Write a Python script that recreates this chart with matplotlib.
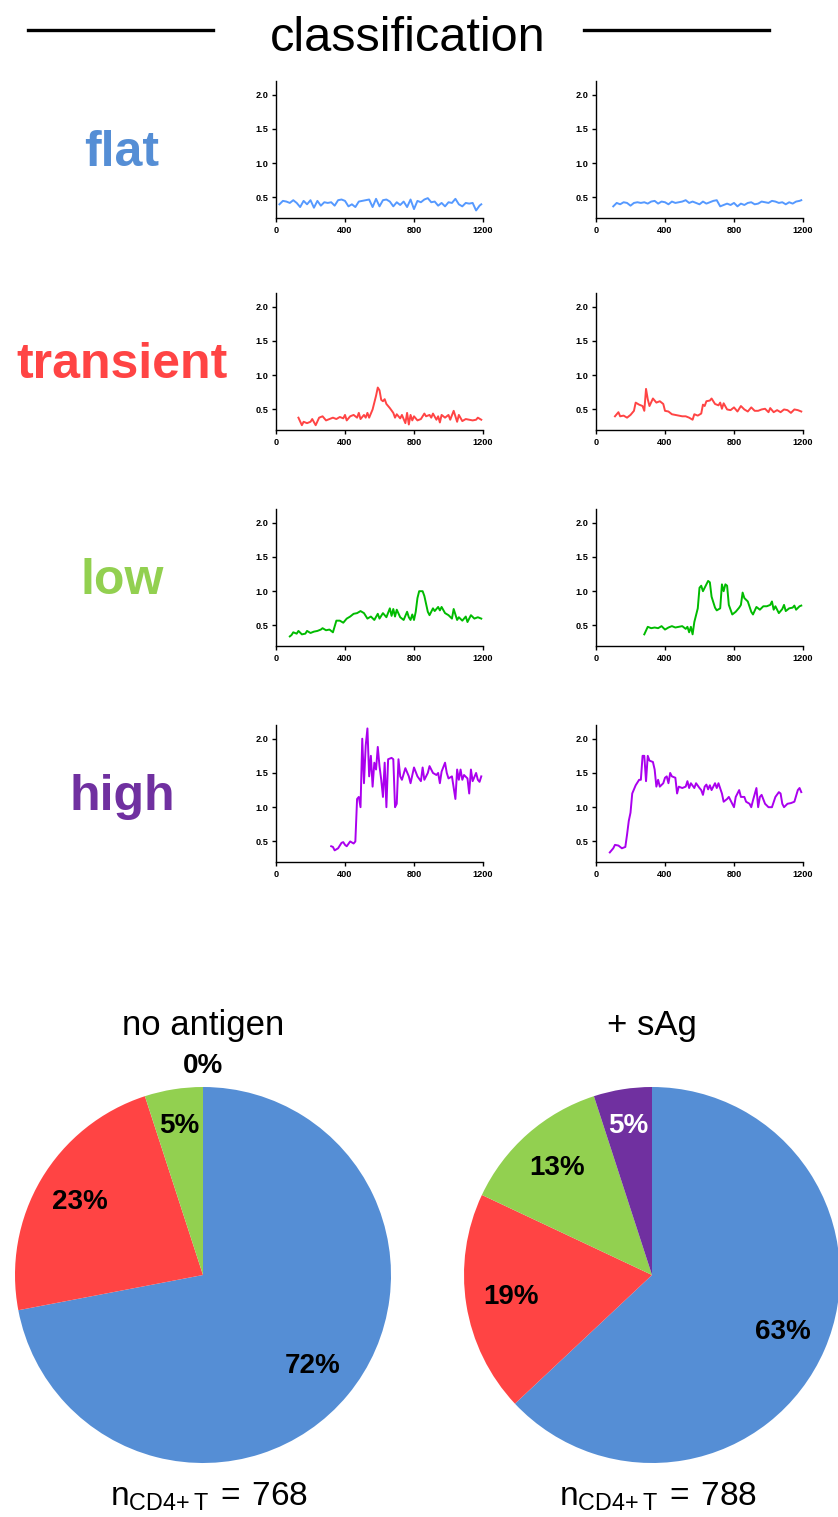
import matplotlib
matplotlib.use("Agg")
import matplotlib.pyplot as plt
import numpy as np

# ---- trace data (time in s, value) ----
flat_l_x = [20, 40, 60, 80, 100, 120, 140, 160, 180, 200, 220, 240, 260, 280, 300, 320, 340, 360, 380, 400,
            420, 440, 460, 480, 500, 520, 540, 560, 580, 600, 620, 640, 660, 680, 700, 720, 740, 760, 780, 800,
            820, 840, 860, 880, 900, 920, 940, 960, 980, 1000, 1020, 1040, 1060, 1080, 1100, 1120, 1140, 1160, 1180, 1190]
flat_l_y = [0.40, 0.45, 0.44, 0.42, 0.46, 0.42, 0.36, 0.45, 0.40, 0.46, 0.35, 0.45, 0.38, 0.43, 0.42, 0.43, 0.38, 0.46, 0.47, 0.45,
            0.37, 0.40, 0.36, 0.44, 0.45, 0.46, 0.47, 0.36, 0.48, 0.37, 0.46, 0.47, 0.44, 0.37, 0.43, 0.39, 0.44, 0.36, 0.47, 0.33,
            0.45, 0.43, 0.47, 0.49, 0.43, 0.44, 0.38, 0.42, 0.37, 0.43, 0.42, 0.48, 0.40, 0.37, 0.42, 0.41, 0.42, 0.31, 0.38, 0.40]

flat_r_x = [100, 120, 140, 160, 180, 200, 220, 240, 260, 280, 300, 320, 340, 360, 380, 400, 420, 440, 460, 480,
            500, 520, 540, 560, 580, 600, 620, 640, 660, 680, 700, 720, 740, 760, 780, 800, 820, 840, 860, 880,
            900, 920, 940, 960, 980, 1000, 1020, 1040, 1060, 1080, 1100, 1120, 1140, 1160, 1180, 1190]
flat_r_y = [0.37, 0.42, 0.40, 0.43, 0.42, 0.38, 0.42, 0.43, 0.42, 0.43, 0.41, 0.44, 0.45, 0.41, 0.44, 0.43, 0.40, 0.44, 0.42, 0.43,
            0.44, 0.46, 0.42, 0.44, 0.42, 0.40, 0.44, 0.41, 0.43, 0.45, 0.46, 0.37, 0.39, 0.41, 0.39, 0.42, 0.37, 0.41, 0.39, 0.42,
            0.43, 0.40, 0.41, 0.44, 0.43, 0.42, 0.45, 0.44, 0.42, 0.43, 0.40, 0.43, 0.41, 0.44, 0.45, 0.46]

trans_l_x = [130, 150, 160, 180, 200, 210, 230, 250, 270, 290, 310, 330, 350, 370, 390, 400, 410, 430, 450, 470,
             480, 490, 510, 520, 530, 540, 560, 580, 590, 600, 610, 620, 630, 640, 660, 680, 690, 700, 720, 730,
             750, 760, 770, 780, 790, 800, 820, 840, 860, 870, 890, 900, 910, 930, 940, 950, 960, 980, 1000, 1010,
             1030, 1040, 1050, 1060, 1080, 1100, 1120, 1140, 1160, 1170, 1190]
trans_l_y = [0.38, 0.27, 0.32, 0.30, 0.32, 0.36, 0.27, 0.38, 0.40, 0.34, 0.36, 0.38, 0.36, 0.39, 0.37, 0.42, 0.34, 0.40, 0.42, 0.38,
             0.45, 0.36, 0.42, 0.38, 0.45, 0.38, 0.50, 0.70, 0.82, 0.78, 0.64, 0.62, 0.65, 0.58, 0.52, 0.45, 0.38, 0.43, 0.37, 0.42,
             0.30, 0.45, 0.28, 0.42, 0.34, 0.40, 0.34, 0.36, 0.44, 0.40, 0.42, 0.38, 0.44, 0.35, 0.40, 0.31, 0.42, 0.38, 0.42, 0.35,
             0.48, 0.40, 0.32, 0.42, 0.33, 0.36, 0.35, 0.34, 0.35, 0.38, 0.35]

trans_r_x = [110, 130, 140, 160, 180, 200, 220, 230, 250, 270, 280, 290, 300, 310, 330, 350, 370, 390, 400, 420,
             440, 460, 480, 500, 520, 540, 560, 570, 590, 610, 620, 630, 640, 660, 670, 690, 710, 720, 730, 740,
             760, 780, 800, 820, 840, 860, 880, 900, 920, 940, 960, 980, 1000, 1010, 1030, 1050, 1070, 1090, 1110, 1130,
             1150, 1170, 1190]
trans_r_y = [0.40, 0.46, 0.40, 0.41, 0.38, 0.42, 0.48, 0.60, 0.57, 0.55, 0.48, 0.80, 0.65, 0.55, 0.66, 0.60, 0.62, 0.58, 0.48, 0.47,
             0.43, 0.42, 0.41, 0.40, 0.40, 0.38, 0.35, 0.43, 0.41, 0.44, 0.57, 0.55, 0.62, 0.63, 0.66, 0.58, 0.56, 0.60, 0.51, 0.59,
             0.50, 0.49, 0.53, 0.47, 0.55, 0.50, 0.47, 0.53, 0.48, 0.48, 0.50, 0.51, 0.46, 0.52, 0.46, 0.49, 0.46, 0.50, 0.49, 0.45,
             0.50, 0.49, 0.47]

low_l_x = [80, 90, 100, 120, 130, 150, 170, 180, 200, 220, 240, 260, 270, 290, 310, 330, 350, 370, 390, 410,
           430, 450, 470, 490, 510, 530, 550, 570, 590, 600, 620, 640, 660, 670, 680, 690, 700, 720, 740, 760,
           770, 780, 790, 800, 810, 820, 830, 850, 860, 880, 890, 910, 920, 940, 950, 960, 980, 1000, 1020, 1030,
           1050, 1060, 1080, 1100, 1110, 1130, 1150, 1170, 1190]
low_l_y = [0.34, 0.36, 0.40, 0.38, 0.42, 0.37, 0.38, 0.42, 0.39, 0.41, 0.42, 0.44, 0.46, 0.43, 0.44, 0.40, 0.57, 0.57, 0.54, 0.60,
           0.63, 0.67, 0.68, 0.71, 0.68, 0.60, 0.63, 0.58, 0.67, 0.60, 0.68, 0.62, 0.75, 0.64, 0.74, 0.63, 0.73, 0.62, 0.58, 0.70,
           0.62, 0.58, 0.66, 0.58, 0.70, 0.90, 1.00, 1.00, 0.93, 0.70, 0.65, 0.75, 0.71, 0.77, 0.72, 0.77, 0.68, 0.65, 0.60, 0.74,
           0.58, 0.62, 0.57, 0.63, 0.55, 0.65, 0.60, 0.62, 0.60]

low_r_x = [280, 300, 320, 340, 360, 380, 400, 420, 440, 460, 480, 500, 520, 530, 540, 550, 560, 570, 590, 600,
           610, 620, 640, 650, 660, 670, 690, 700, 720, 730, 740, 750, 760, 770, 790, 810, 830, 840, 850, 860,
           880, 900, 910, 930, 950, 970, 990, 1010, 1020, 1030, 1040, 1060, 1080, 1090, 1100, 1120, 1140, 1150, 1160, 1180,
           1190]
low_r_y = [0.37, 0.48, 0.46, 0.47, 0.46, 0.49, 0.44, 0.47, 0.49, 0.47, 0.48, 0.49, 0.45, 0.48, 0.40, 0.48, 0.37, 0.55, 0.75, 1.05,
           1.08, 1.00, 1.10, 1.15, 1.13, 0.92, 0.76, 0.72, 0.75, 1.10, 1.00, 1.10, 1.08, 0.80, 0.66, 0.70, 0.76, 0.80, 0.98, 0.90,
           0.85, 0.70, 0.66, 0.77, 0.73, 0.78, 0.78, 0.80, 0.85, 0.73, 0.78, 0.68, 0.74, 0.80, 0.71, 0.75, 0.76, 0.79, 0.73, 0.78,
           0.79]

high_l_x = [320, 330, 340, 360, 380, 390, 400, 410, 430, 450, 460, 470, 480, 490, 500, 510, 520, 530, 540, 550,
            560, 570, 580, 590, 600, 610, 620, 630, 640, 650, 670, 680, 690, 700, 710, 720, 730, 750, 770, 780,
            800, 820, 840, 850, 860, 880, 890, 910, 930, 940, 950, 960, 980, 990, 1000, 1020, 1040, 1050, 1060, 1070,
            1080, 1090, 1110, 1120, 1130, 1140, 1160, 1170, 1180, 1190]
high_l_y = [0.43, 0.42, 0.37, 0.40, 0.48, 0.49, 0.45, 0.43, 0.50, 0.47, 0.50, 1.12, 1.15, 1.00, 2.00, 1.35, 1.90, 2.15, 1.45, 1.75,
            1.30, 1.65, 1.55, 1.88, 1.60, 1.40, 1.15, 1.65, 1.00, 1.70, 1.72, 1.70, 1.00, 1.05, 1.70, 1.45, 1.40, 1.57, 1.45, 1.35,
            1.58, 1.45, 1.38, 1.58, 1.40, 1.50, 1.60, 1.50, 1.47, 1.50, 1.35, 1.52, 1.65, 1.50, 1.42, 1.45, 1.12, 1.55, 1.40, 1.55,
            1.40, 1.47, 1.42, 1.20, 1.55, 1.38, 1.50, 1.40, 1.37, 1.45]

high_r_x = [80, 100, 110, 130, 150, 170, 180, 190, 200, 210, 230, 250, 260, 270, 280, 290, 300, 310, 330, 340,
            350, 360, 370, 390, 400, 410, 420, 430, 440, 460, 470, 480, 500, 520, 530, 540, 550, 570, 580, 600,
            610, 620, 630, 640, 650, 660, 670, 690, 700, 710, 730, 740, 760, 770, 790, 800, 810, 830, 840, 860,
            870, 890, 900, 910, 930, 940, 950, 960, 980, 1000, 1020, 1040, 1060, 1070, 1080, 1090, 1110, 1130, 1150, 1170,
            1180, 1190]
high_r_y = [0.34, 0.40, 0.45, 0.44, 0.40, 0.42, 0.60, 0.80, 0.92, 1.20, 1.32, 1.40, 1.40, 1.75, 1.75, 1.38, 1.75, 1.68, 1.66, 1.55,
            1.30, 1.40, 1.30, 1.35, 1.43, 1.45, 1.35, 1.50, 1.45, 1.43, 1.20, 1.30, 1.28, 1.30, 1.38, 1.28, 1.35, 1.28, 1.35, 1.28,
            1.25, 1.18, 1.30, 1.33, 1.26, 1.32, 1.25, 1.35, 1.28, 1.35, 1.20, 1.08, 1.12, 1.15, 1.05, 1.00, 1.15, 1.25, 1.15, 1.15,
            1.08, 1.05, 1.00, 1.10, 1.28, 1.00, 1.15, 1.18, 1.05, 1.00, 1.00, 1.15, 1.22, 1.20, 1.05, 1.00, 1.05, 1.06, 1.08, 1.25,
            1.28, 1.22]

categories = ["flat", "transient", "low", "high"]
label_colors = ["#558ED5", "#FF4444", "#92D050", "#7030A0"]
trace_colors = ["#5599FF", "#FF4444", "#00BB00", "#AA00EE"]
traces = [
    [(flat_l_x, flat_l_y), (flat_r_x, flat_r_y)],
    [(trans_l_x, trans_l_y), (trans_r_x, trans_r_y)],
    [(low_l_x, low_l_y), (low_r_x, low_r_y)],
    [(high_l_x, high_l_y), (high_r_x, high_r_y)],
]

# ---- pie data ----
pie_titles = ["no antigen", "+ sAg"]
pie_values = [[72, 23, 5, 0], [63, 19, 13, 5]]
pie_n = [768, 788]
pie_colors = ["#558ED5", "#FF4444", "#92D050", "#7030A0"]

W, H = 838, 1517
fig = plt.figure(figsize=(W / 100, H / 100), dpi=100)

def fx(px):
    return px / W

def fy(px):
    return 1 - px / H

# header
fig.add_artist(plt.Line2D([fx(28), fx(213)], [fy(30), fy(30)], color="black", lw=2.4))
fig.add_artist(plt.Line2D([fx(584), fx(769)], [fy(30), fy(30)], color="black", lw=2.4))
fig.text(fx(408), fy(51), "classification", ha="center", va="baseline", fontsize=35,
         family="Liberation Sans")

row_tops = [81, 293, 509, 725]
col_lefts = [276, 596]
ax_w, ax_h = 207, 137

for i, cat in enumerate(categories):
    top = row_tops[i]
    fig.text(fx(122), fy(top + 85), cat, ha="center", va="baseline", fontsize=36,
             fontweight="bold", color=label_colors[i], family="Liberation Sans")
    for j in range(2):
        ax = fig.add_axes([fx(col_lefts[j]), fy(top + ax_h), ax_w / W, ax_h / H])
        x, y = traces[i][j]
        ax.plot(x, y, color=trace_colors[i], lw=1.4)
        ax.set_xlim(0, 1200)
        ax.set_ylim(0.2, 2.2)
        ax.set_xticks([0, 400, 800, 1200])
        ax.set_yticks([0.5, 1.0, 1.5, 2.0])
        ax.set_yticklabels(["0.5", "1.0", "1.5", "2.0"])
        for s in ["top", "right"]:
            ax.spines[s].set_visible(False)
        for s in ["left", "bottom"]:
            ax.spines[s].set_linewidth(1.0)
        ax.tick_params(length=3, width=1.0, pad=2.5, labelsize=6.6)
        for lab in ax.get_xticklabels() + ax.get_yticklabels():
            lab.set_fontweight("bold")
            lab.set_family("Liberation Sans")

# pies
pie_centers = [(203, 1275), (652, 1275)]
radius = 188
for k in range(2):
    cx, cy = pie_centers[k]
    ax = fig.add_axes([fx(cx - radius), fy(cy + radius), 2 * radius / W, 2 * radius / H])
    vals = pie_values[k]
    ax.pie(vals, colors=pie_colors, startangle=90, counterclock=False,
           wedgeprops=dict(linewidth=0))
    ax.set_xlim(-1, 1)
    ax.set_ylim(-1, 1)
    ax.set_aspect("auto")
    ax.axis("off")
    total = float(sum(vals))
    start = 90.0
    for v, c in zip(vals, pie_colors):
        span = 360.0 * v / total
        mid = np.deg2rad(start - span / 2)
        if v == 0:
            dist = 1.11
        elif v <= 5:
            dist = 0.80
        else:
            dist = 0.76
        tcol = "white" if c == "#7030A0" and v > 0 else "black"
        ax.text(dist * np.cos(mid), dist * np.sin(mid), "%d%%" % v, ha="center", va="center",
                fontsize=20, fontweight="bold", color=tcol, family="Liberation Sans", clip_on=False)
        start -= span
    fig.text(fx(cx), fy(1025), pie_titles[k], ha="center", va="center", fontsize=25,
             family="Liberation Sans")
    fig.text(fx(cx + 6), fy(1506), r"$\mathregular{n_{CD4{+}\,T}\,{=}\,%d}$" % pie_n[k], ha="center",
             va="baseline", fontsize=24, family="Liberation Sans")

fig.savefig("out.png", dpi=100)
